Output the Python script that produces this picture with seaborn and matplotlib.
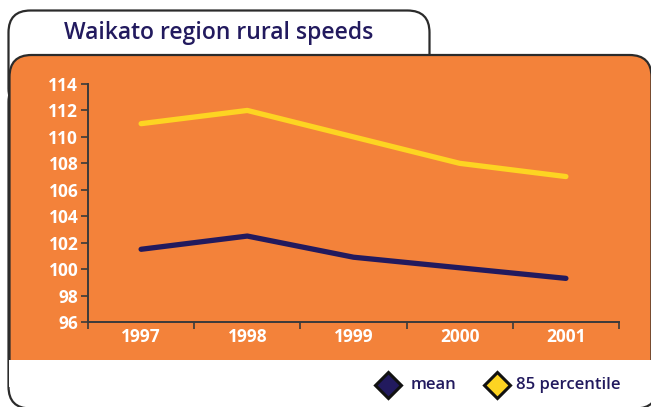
import pandas as pd
import matplotlib.pyplot as plt
import seaborn as sns
from matplotlib.patches import FancyBboxPatch, Rectangle

# data
years = ['1997', '1998', '1999', '2000', '2001']
mean_speed = [101.5, 102.5, 100.9, 100.1, 99.3]
pct85_speed = [111.0, 112.0, 110.0, 108.0, 107.0]
yticks = [96, 98, 100, 102, 104, 106, 108, 110, 112, 114]
series_names = ['mean', '85 percentile']

ORANGE = '#F3823A'
NAVY = '#221A5E'
YELLOW = '#FDD422'
EDGE = '#2b2b2b'

df = pd.DataFrame({'year': years, 'mean': mean_speed, '85 percentile': pct85_speed})
df['x'] = range(len(years))
long_df = df.melt(id_vars=['year', 'x'], var_name='series', value_name='speed')

sns.set_theme(style='white')
plt.rcParams['font.family'] = ['Open Sans', 'DejaVu Sans']

fig = plt.figure(figsize=(6.51, 4.07), dpi=100)

# background drawing in pixel coordinates
bg = fig.add_axes([0, 0, 1, 1], zorder=0)
bg.set_xlim(0, 651)
bg.set_ylim(407, 0)
bg.axis('off')

# outer white box (top edge hidden under the orange panel)
bg.add_patch(FancyBboxPatch((8.5, 80), 649, 328.5, boxstyle='round,pad=0,rounding_size=22',
                            facecolor='white', edgecolor=EDGE, linewidth=1.6, zorder=1))
# title tab
bg.add_patch(FancyBboxPatch((8.5, 10.5), 421, 100, boxstyle='round,pad=0,rounding_size=22',
                            facecolor='white', edgecolor=EDGE, linewidth=1.6, zorder=1))
# orange panel, its bottom hidden by a white strip
bg.add_patch(FancyBboxPatch((9.5, 55), 642, 330, boxstyle='round,pad=0,rounding_size=22',
                            facecolor=ORANGE, edgecolor=EDGE, linewidth=1.6, zorder=2))
bg.add_patch(Rectangle((9.4, 360), 644, 27, facecolor='white', edgecolor='none', zorder=3))

bg.text(219, 33, 'Waikato region rural speeds', color=NAVY, fontsize=16.5,
        fontweight='semibold', ha='center', va='center', zorder=4)

# legend in the white strip
for mx, tx, name, col in zip([388, 497], [411, 516], series_names, [NAVY, YELLOW]):
    bg.plot([mx], [385], linestyle='none', marker='D', markersize=13.5, markerfacecolor=col,
            markeredgecolor='#111111', markeredgewidth=2.2, zorder=4)
    bg.text(tx, 385, name, color=NAVY, fontsize=12, fontweight='semibold',
            ha='left', va='center', zorder=4)

# chart
ax = fig.add_axes([88 / 651, 1 - 322 / 407, 531 / 651, 238 / 407], zorder=1)
ax.set_facecolor('none')
sns.lineplot(data=long_df, x='x', y='speed', hue='series',
             palette={'mean': NAVY, '85 percentile': YELLOW},
             linewidth=3.8, legend=False, ax=ax)
ax.set_xlim(-0.5, len(years) - 0.5)
ax.set_ylim(yticks[0], yticks[-1])
ax.set_yticks(yticks)
ax.set_xticks([i - 0.5 for i in range(len(years) + 1)])
ax.set_xticklabels([])
ax.set_xticks(range(len(years)), minor=True)
ax.set_xticklabels(years, minor=True)
ax.set_xlabel('')
ax.set_ylabel('')
for s in ['top', 'right']:
    ax.spines[s].set_visible(False)
for s in ['left', 'bottom']:
    ax.spines[s].set_color('#3a3a3a')
    ax.spines[s].set_linewidth(1.4)
ax.tick_params(axis='both', which='major', direction='out', length=5, width=1.2,
               color='#3a3a3a', left=True, bottom=True)
ax.tick_params(axis='x', which='minor', length=0, pad=4)
ax.tick_params(axis='y', which='major', pad=2)
for lab in ax.get_yticklabels() + ax.get_xticklabels(minor=True):
    lab.set_color('white')
    lab.set_fontsize(12.5)
    lab.set_fontweight('bold')

fig.savefig('out.png', dpi=100)
